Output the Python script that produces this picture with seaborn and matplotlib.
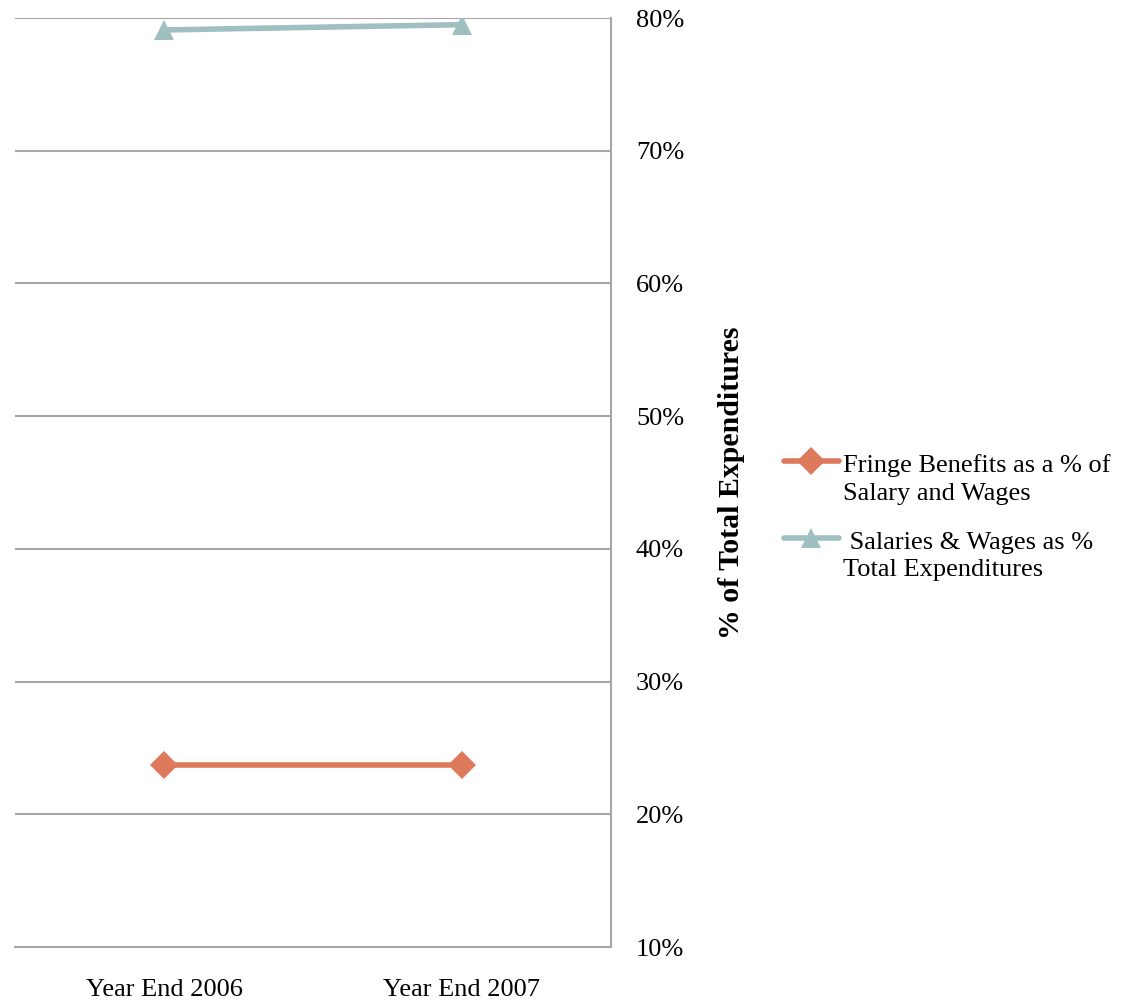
import pandas as pd
import matplotlib.pyplot as plt
import seaborn as sns

# Data
years = ['Year End 2006', 'Year End 2007']
fringe = [23.7, 23.7]
salaries = [79.1, 79.5]
series_names = ['Fringe Benefits as a % of\nSalary and Wages',
                ' Salaries & Wages as %\nTotal Expenditures']
yticks = [10, 20, 30, 40, 50, 60, 70, 80]

df = pd.DataFrame({
    'x': list(range(len(years))) * 2,
    'value': fringe + salaries,
    'series': [series_names[0]] * len(years) + [series_names[1]] * len(years),
})

sns.set_style('white')
plt.rcParams['font.family'] = ['Liberation Serif', 'DejaVu Serif']
plt.rcParams['text.color'] = 'black'
plt.rcParams['xtick.color'] = 'black'
plt.rcParams['ytick.color'] = 'black'
plt.rcParams['axes.labelcolor'] = 'black'

fs = 19

fig = plt.figure(figsize=(11.39, 10.01), dpi=100)
ax = fig.add_axes([0.0132, 0.0539, 0.5232, 0.9281])

palette = {series_names[0]: '#DD7A5C', series_names[1]: '#9FBFC0'}
markers = {series_names[0]: 'D', series_names[1]: '^'}
sns.lineplot(data=df, x='x', y='value', hue='series', style='series',
             palette=palette, markers=markers, dashes=False, linewidth=4,
             markersize=14, markeredgewidth=0, ax=ax)

ax.set_xlim(-0.5, 1.5)
ax.set_ylim(10, 80)
ax.set_xticks(range(len(years)))
ax.set_xticklabels(years, fontsize=fs)
ax.set_yticks(yticks)
ax.set_yticklabels([f'{t}%' for t in yticks], fontsize=fs)
ax.yaxis.tick_right()
ax.yaxis.set_label_position('right')
ax.tick_params(axis='y', length=0, pad=18)
ax.tick_params(axis='x', length=0, pad=23)
ax.grid(axis='y', color='#A6A6A6', linewidth=1.5)
ax.set_axisbelow(True)
for side in ['top', 'left']:
    ax.spines[side].set_visible(False)
for side in ['right', 'bottom']:
    ax.spines[side].set_color('#A6A6A6')
    ax.spines[side].set_linewidth(1.5)
ax.set_xlabel('')
ax.set_ylabel('% of Total Expenditures', fontsize=21.5, fontweight='bold', labelpad=24)

leg = ax.legend(loc='center left', bbox_to_anchor=(1.25, 0.462), frameon=False,
                fontsize=fs, handlelength=2.1, handletextpad=0.15, labelspacing=1.0)
for t in leg.get_texts():
    t.set_linespacing(1.35)
# Excel puts the legend key next to the first line of a wrapped label
for h in leg.legend_handles:
    h.set_ydata([y + 0.68 * fs for y in h.get_ydata()])

fig.savefig('out.png', dpi=100)
